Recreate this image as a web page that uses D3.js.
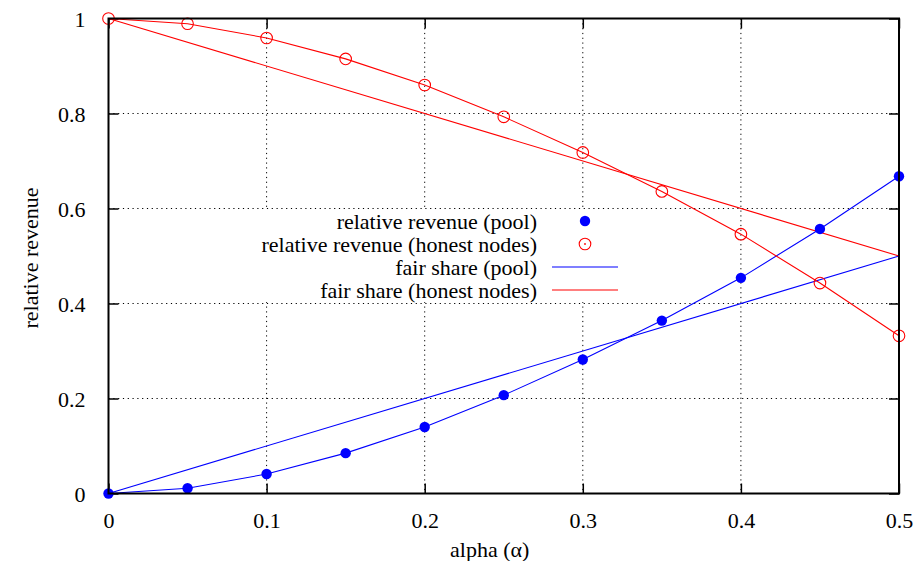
<!DOCTYPE html>
<html>
<head>
<meta charset="utf-8">
<script src="https://cdn.jsdelivr.net/npm/d3@7"></script>
<style>
  html, body { margin: 0; padding: 0; background: #fff; }
  svg { display: block; }
  svg text { fill: #000; }
</style>
</head>
<body>
<svg id="chart" width="916" height="561"></svg>
<script>
// Attacker share of mining power
const alpha = [0, 0.05, 0.1, 0.15, 0.2, 0.25, 0.3, 0.35, 0.4, 0.45, 0.5];
// Measured relative revenue
const poolRevenue   = [0, 0.011, 0.041, 0.085, 0.14, 0.207, 0.282, 0.364, 0.454, 0.557, 0.668];
const honestRevenue = [1, 0.989, 0.959, 0.915, 0.86, 0.793, 0.718, 0.636, 0.546, 0.443, 0.332];
// Fair share reference lines (endpoints)
const fairAlpha  = [0, 0.5];
const fairPool   = [0, 0.5];
const fairHonest = [1, 0.5];

const xTicks = [0, 0.1, 0.2, 0.3, 0.4, 0.5];
const xTickLabels = ["0", "0.1", "0.2", "0.3", "0.4", "0.5"];
const yTicks = [0, 0.2, 0.4, 0.6, 0.8, 1];
const yTickLabels = ["0", "0.2", "0.4", "0.6", "0.8", "1"];

const legendLabels = [
  "relative revenue (pool)",
  "relative revenue (honest nodes)",
  "fair share (pool)",
  "fair share (honest nodes)"
];

const BLUE = "#0000ff", RED = "#ff0000";
const FONT = '"Liberation Serif", "Times New Roman", Times, "DejaVu Serif", serif';
const FS = "22px";

const svg = d3.select("#chart");
const m = { left: 108.5, right: 899, top: 18.5, bottom: 493.5 };

const x = d3.scaleLinear().domain([0, 0.5]).range([m.left, m.right]);
const y = d3.scaleLinear().domain([0, 1]).range([m.bottom, m.top]);

// dotted grid
const grid = svg.append("g")
  .attr("stroke", "#000").attr("stroke-width", 1).attr("stroke-dasharray", "1.2,3.6");
grid.selectAll("line.gx").data(xTicks.slice(1, -1)).join("line")
  .attr("x1", d => x(d)).attr("x2", d => x(d))
  .attr("y1", m.top).attr("y2", m.bottom);
grid.selectAll("line.gy").data(yTicks.slice(1, -1)).join("line")
  .attr("y1", d => y(d)).attr("y2", d => y(d))
  .attr("x1", m.left).attr("x2", m.right);

// axes with inward ticks on all four sides
const tickLen = 10;
const axB = svg.append("g").attr("transform", `translate(0,${m.bottom})`)
  .call(d3.axisBottom(x).tickValues(xTicks).tickFormat((d, i) => xTickLabels[i])
    .tickSizeInner(-tickLen).tickSizeOuter(0).tickPadding(19));
const axT = svg.append("g").attr("transform", `translate(0,${m.top})`)
  .call(d3.axisTop(x).tickValues(xTicks).tickFormat("").tickSizeInner(-tickLen).tickSizeOuter(0));
const axL = svg.append("g").attr("transform", `translate(${m.left},0)`)
  .call(d3.axisLeft(y).tickValues(yTicks).tickFormat((d, i) => yTickLabels[i])
    .tickSizeInner(-tickLen).tickSizeOuter(0).tickPadding(23));
const axR = svg.append("g").attr("transform", `translate(${m.right},0)`)
  .call(d3.axisRight(y).tickValues(yTicks).tickFormat("").tickSizeInner(-tickLen).tickSizeOuter(0));
[axB, axT, axL, axR].forEach(a => {
  a.attr("font-family", FONT).attr("font-size", FS);
  a.select(".domain").remove();
  a.selectAll(".tick line").attr("stroke", "#000").attr("stroke-width", 1.5);
  a.selectAll("text").attr("fill", "#000");
});
axL.selectAll("text").attr("dy", "0.35em");

// legend box (opaque)
const legX = 537, legY0 = 221, legDy = 23;
svg.append("rect").attr("x", 252).attr("y", 209).attr("width", 372).attr("height", 93).attr("fill", "#fff");

// fair share lines
const line = d3.line().x(d => x(d[0])).y(d => y(d[1]));
svg.append("path").datum(fairAlpha.map((a, i) => [a, fairPool[i]]))
  .attr("d", line).attr("fill", "none").attr("stroke", BLUE).attr("stroke-width", 1.1);
svg.append("path").datum(fairAlpha.map((a, i) => [a, fairHonest[i]]))
  .attr("d", line).attr("fill", "none").attr("stroke", RED).attr("stroke-width", 1.1);

// revenue curves
svg.append("path").datum(alpha.map((a, i) => [a, poolRevenue[i]]))
  .attr("d", line).attr("fill", "none").attr("stroke", BLUE).attr("stroke-width", 1.1);
svg.append("path").datum(alpha.map((a, i) => [a, honestRevenue[i]]))
  .attr("d", line).attr("fill", "none").attr("stroke", RED).attr("stroke-width", 1.1);

// points
svg.append("g").selectAll("circle").data(alpha.map((a, i) => [a, poolRevenue[i]])).join("circle")
  .attr("cx", d => x(d[0])).attr("cy", d => y(d[1])).attr("r", 5.2).attr("fill", BLUE);
svg.append("g").selectAll("circle").data(alpha.map((a, i) => [a, honestRevenue[i]])).join("circle")
  .attr("cx", d => x(d[0])).attr("cy", d => y(d[1])).attr("r", 5.8)
  .attr("fill", "none").attr("stroke", RED).attr("stroke-width", 1.1);

// frame
svg.append("rect").attr("x", m.left).attr("y", m.top)
  .attr("width", m.right - m.left).attr("height", m.bottom - m.top)
  .attr("fill", "none").attr("stroke", "#000").attr("stroke-width", 2);

// legend entries
const leg = svg.append("g").attr("font-family", FONT).attr("font-size", FS);
legendLabels.forEach((t, i) => {
  leg.append("text").attr("x", legX).attr("y", legY0 + i * legDy).attr("dy", "0.35em")
    .attr("text-anchor", "end").text(t);
});
const sx1 = 552, sx2 = 618, sxc = 585;
leg.append("circle").attr("cx", sxc).attr("cy", legY0).attr("r", 5.2).attr("fill", BLUE);
leg.append("circle").attr("cx", sxc).attr("cy", legY0 + legDy).attr("r", 5.8)
  .attr("fill", "none").attr("stroke", RED).attr("stroke-width", 1.1);
leg.append("circle").attr("cx", sxc).attr("cy", legY0 + legDy).attr("r", 0.9).attr("fill", RED);
leg.append("line").attr("x1", sx1).attr("x2", sx2).attr("y1", legY0 + 2 * legDy).attr("y2", legY0 + 2 * legDy)
  .attr("stroke", BLUE).attr("stroke-width", 1.1);
leg.append("line").attr("x1", sx1).attr("x2", sx2).attr("y1", legY0 + 3 * legDy).attr("y2", legY0 + 3 * legDy)
  .attr("stroke", RED).attr("stroke-width", 1.1);

// axis titles
svg.append("text").attr("x", x(0.25) - 14).attr("y", 549).attr("dy", "0.35em")
  .attr("font-family", FONT).attr("font-size", FS)
  .attr("text-anchor", "middle").text("alpha (α)");
svg.append("text").attr("transform", `translate(30,${y(0.5) + 2}) rotate(-90)`)
  .attr("font-family", FONT).attr("font-size", FS)
  .attr("dy", "0.35em").attr("text-anchor", "middle").text("relative revenue");
</script>
</body>
</html>
